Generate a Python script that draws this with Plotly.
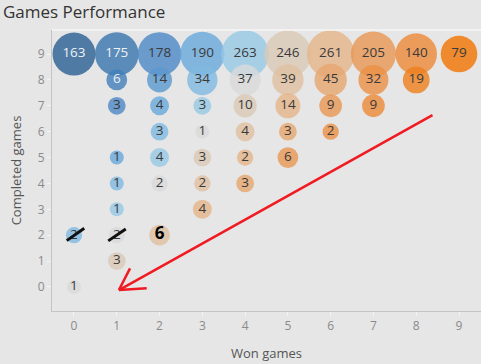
import plotly.graph_objects as go

# Data: (won games, completed games, number of players/games)
won = [0, 1, 2, 3, 4, 5, 6, 7, 8, 9,
       1, 2, 3, 4, 5, 6, 7, 8,
       1, 2, 3, 4, 5, 6, 7,
       2, 3, 4, 5, 6,
       1, 2, 3, 4, 5,
       1, 2, 3, 4,
       1, 3,
       0, 1, 2,
       1,
       0]
completed = [9, 9, 9, 9, 9, 9, 9, 9, 9, 9,
             8, 8, 8, 8, 8, 8, 8, 8,
             7, 7, 7, 7, 7, 7, 7,
             6, 6, 6, 6, 6,
             5, 5, 5, 5, 5,
             4, 4, 4, 4,
             3, 3,
             2, 2, 2,
             1,
             0]
counts = [163, 175, 178, 190, 263, 246, 261, 205, 140, 79,
          6, 14, 34, 37, 39, 45, 32, 19,
          3, 4, 3, 10, 14, 9, 9,
          3, 1, 4, 3, 2,
          1, 4, 3, 2, 6,
          1, 2, 2, 3,
          1, 4,
          2, 2, 6,
          3,
          1]
x_ticks = list(range(10))
y_ticks = list(range(10))

diff = [2 * w - c for w, c in zip(won, completed)]
sizes = [14 * v ** 0.22 for v in counts]
texts = [str(v) for v in counts]
tcolors = ["#eef2f7" if d <= -6 else "#3a3a3a" for d in diff]
tsizes = [13.5 for _ in counts]
# edited label at (2,2)
for i, (w, c) in enumerate(zip(won, completed)):
    if w == 2 and c == 2:
        texts[i] = "<b>6</b>"
        tcolors[i] = "#000000"
        tsizes[i] = 17

colorscale = [
    [0.0, "#295f92"],
    [0.111, "#3874ac"],
    [0.222, "#4b88c5"],
    [0.333, "#69a9db"],
    [0.444, "#95c9e6"],
    [0.5, "#d9d9d9"],
    [0.556, "#dbc9b6"],
    [0.667, "#e5b589"],
    [0.778, "#e89754"],
    [0.889, "#ec8937"],
    [1.0, "#f17301"],
]

fig = go.Figure()
fig.add_trace(go.Scatter(
    x=won, y=completed, mode="markers+text",
    text=texts, textposition="middle center",
    textfont=dict(family="Open Sans", size=tsizes, color=tcolors),
    marker=dict(size=sizes, sizemode="diameter", color=diff,
                colorscale=colorscale, cmin=-9, cmax=9,
                opacity=0.8, line=dict(width=0)),
    cliponaxis=True, hoverinfo="skip", showlegend=False,
))

BG = "#e6e6e6"
fig.update_layout(
    width=481, height=364,
    margin=dict(l=52, r=0, t=30, b=53),
    paper_bgcolor=BG, plot_bgcolor=BG,
    font=dict(family="Open Sans", color="#333333"),
    title=dict(text="Games Performance", x=0.006, xanchor="left",
               y=0.967, yanchor="middle",
               font=dict(family="Open Sans", size=17, color="#333333")),
    xaxis=dict(range=[-0.514, 9.514], tickvals=x_ticks, showgrid=False,
               zeroline=False, showline=True, linecolor="#c4c4c4",
               ticks="outside", ticklen=4, tickcolor="#f4f4f4",
               tickfont=dict(size=12, color="#8a8a8a"),
               title=dict(text="Won games", standoff=15,
                          font=dict(size=13, color="#555555"))),
    yaxis=dict(range=[-0.93, 9.93], tickvals=y_ticks, showgrid=False,
               zeroline=False, showline=True, linecolor="#c4c4c4",
               ticks="outside", ticklen=4, tickcolor="#f4f4f4",
               tickfont=dict(size=12, color="#8a8a8a"),
               title=dict(text="Completed games", standoff=13,
                          font=dict(size=13, color="#555555"))),
)

# top light border of the plot area
fig.add_shape(type="line", xref="paper", yref="paper", x0=0, x1=1, y0=1, y1=1,
              line=dict(color="#f6f6f6", width=1.5))

# hand-drawn strike-throughs
for (x0, y0, x1, y1) in [(-0.17, 1.79, 0.24, 2.27), (0.80, 1.78, 1.21, 2.24)]:
    fig.add_shape(type="line", xref="x", yref="y", x0=x0, y0=y0, x1=x1, y1=y1,
                  line=dict(color="#111111", width=3))

# hand-drawn red arrow
for (x0, y0, x1, y1) in [(8.38, 6.64, 1.05, -0.12),
                         (1.05, -0.12, 1.31, 0.72),
                         (1.05, -0.12, 1.70, -0.05)]:
    fig.add_shape(type="line", xref="x", yref="y", x0=x0, y0=y0, x1=x1, y1=y1,
                  line=dict(color="#f01a22", width=2.5))

fig.write_html("out.html")
